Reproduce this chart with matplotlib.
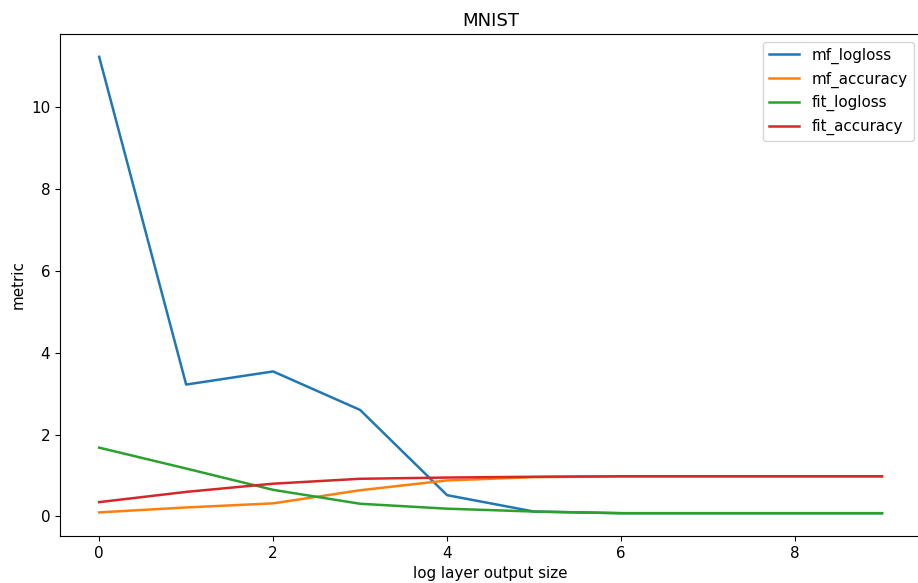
import numpy as np
import matplotlib.pyplot as plt

plt.rcParams['font.size'] = 10.9
plt.rcParams['lines.linewidth'] = 1.8

# log2 of layer output size
log_size = np.arange(10)

mf_logloss = [11.22, 3.22, 3.54, 2.60, 0.52, 0.12, 0.08, 0.08, 0.08, 0.08]
mf_accuracy = [0.10, 0.22, 0.32, 0.64, 0.88, 0.96, 0.98, 0.98, 0.98, 0.98]
fit_logloss = [1.68, 1.17, 0.65, 0.31, 0.19, 0.12, 0.08, 0.08, 0.08, 0.08]
fit_accuracy = [0.35, 0.60, 0.80, 0.92, 0.95, 0.97, 0.98, 0.98, 0.98, 0.98]

fig = plt.figure(figsize=(9.18, 5.83), dpi=100)
ax = fig.add_axes([0.0654, 0.0806, 0.938, 0.8611])

ax.plot(log_size, mf_logloss, label="mf_logloss")
ax.plot(log_size, mf_accuracy, label="mf_accuracy")
ax.plot(log_size, fit_logloss, label="fit_logloss")
ax.plot(log_size, fit_accuracy, label="fit_accuracy")

ax.set_title("MNIST")
ax.set_xlabel("log layer output size")
ax.set_ylabel("metric")
ax.legend(loc="upper right")
# the right edge of the axes falls off the saved image in the original
ax.spines['right'].set_visible(False)

fig.savefig("out.png", dpi=100)
